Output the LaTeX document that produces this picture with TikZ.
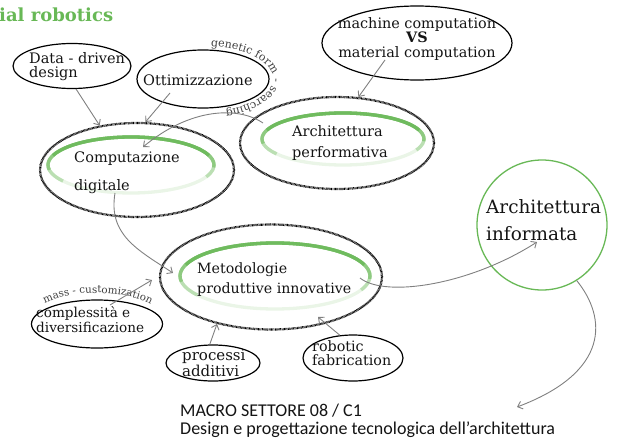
\documentclass[tikz,border=0pt]{standalone}
\usepackage{fontspec}
\setmainfont{DejaVu Serif}
\newfontfamily\sectorfont{Carlito}
\usetikzlibrary{shapes.geometric}
\usetikzlibrary{arrows.meta}
\usetikzlibrary{decorations.text}

\definecolor{leafgreen}{RGB}{104,184,86}
\definecolor{inkgray}{RGB}{128,128,128}

\tikzset{
  bubble/.style={draw=black, line width=1.2pt, ellipse, inner sep=0pt},
  hub/.style={draw=black, line width=2.2pt, dash pattern=on 0.7pt off 0.6pt, ellipse, inner sep=0pt},
  lbl/.style={inner sep=0pt, align=left, text=black!92},
  flow/.style={draw=inkgray, line width=0.9pt, -{Straight Barb[length=4.5pt,width=8pt]}},
  ring/.style={line width=3.3pt},
}

\begin{document}
\begin{tikzpicture}[x=1pt, y=1pt]
    \useasboundingbox (0,0) rectangle (620,-441);

    % Hubs
    \node[hub, minimum width=194pt, minimum height=94pt] (comp) at (137,-170) {};
    \node[hub, minimum width=194pt, minimum height=92pt] (perf) at (337,-143) {};
    \node[hub, minimum width=222pt, minimum height=105pt] (meto) at (271,-277) {};
    \node[circle, draw=leafgreen, line width=1.3pt, minimum size=130pt, inner sep=0pt] (info) at (542,-225) {};

    % Green rings
    \foreach \h/\dx/\dy/\rx/\ry in {comp/-6/5/83/28, perf/6/4/81/26, meto/4/1/95/33} {
      \path ([shift={(\dx,\dy)}]\h.center) coordinate (c);
      \foreach \tone/\from/\to in {14/0/360, 45/215/-25, 75/190/-5, 95/160/20}
        \draw[ring, leafgreen!\tone] ([shift={(\from:{\rx} and {\ry})}]c)
          arc[start angle=\from, end angle=\to, x radius=\rx, y radius=\ry];
    }

    % Bubbles
    \node[bubble, minimum width=118pt, minimum height=45pt] (data) at (72,-66) {};
    \node[bubble, minimum width=132pt, minimum height=58pt] (opt) at (203,-79) {};
    \node[bubble, minimum width=190pt, minimum height=74pt] (mach) at (417,-43) {};
    \node[bubble, minimum width=131pt, minimum height=48pt] (cplx) at (97,-324) {};
    \node[bubble, minimum width=94pt, minimum height=36pt] (proc) at (213,-363) {};
    \node[bubble, minimum width=100pt, minimum height=46pt] (robo) at (353,-358) {};
    \coordinate (sink) at (517,-407);

    % Labels
    \node[lbl, anchor=base west, text=leafgreen, font=\bfseries\fontsize{18pt}{18pt}\selectfont] (title) at (-1,-22) {ial robotics};
    \node[lbl, anchor=west, font=\fontsize{14.5pt}{14pt}\selectfont] (datatxt) at (29,-66.5) {Data - driven\\design};
    \node[lbl, anchor=base west, font=\fontsize{14.5pt}{14pt}\selectfont] (opttxt) at (143,-85) {Ottimizzazione};
    \node[lbl, align=center, font=\fontsize{14.4pt}{14.5pt}\selectfont] (machtxt) at (417,-39) {machine computation\\\textbf{VS}\\material computation};
    \node[lbl, anchor=west, font=\fontsize{14.5pt}{28pt}\selectfont] (comptxt) at (74,-172.5) {Computazione\\digitale};
    \node[lbl, anchor=west, font=\fontsize{14.5pt}{21pt}\selectfont] (perftxt) at (292,-143) {Architettura\\performativa};
    \node[lbl, anchor=west, font=\fontsize{18.4pt}{27pt}\selectfont] (infotxt) at (486,-220) {Architettura\\informata};
    \node[lbl, anchor=west, font=\fontsize{14.2pt}{20pt}\selectfont] (metotxt) at (197,-279.5) {Metodologie\\produttive innovative};
    \node[lbl, anchor=west, font=\fontsize{13.6pt}{15pt}\selectfont] (cplxtxt) at (36,-319.5) {complessità e\\diversificazione};
    \node[lbl, anchor=west, font=\fontsize{15pt}{13.5pt}\selectfont] (proctxt) at (182,-363) {processi\\additivi};
    \node[lbl, anchor=west, font=\fontsize{14.3pt}{14pt}\selectfont] (robotxt) at (312,-353.5) {robotic\\fabrication};
    \node[lbl, anchor=west, font=\sectorfont\fontsize{18pt}{18pt}\selectfont] (sector) at (180,-420.5) {MACRO SETTORE 08 / C1\\Design e progettazione tecnologica dell’architettura};

    % Curved captions
    \path[decorate, decoration={text along path, text color=black!75, text align=center,
        text={|\fontsize{11pt}{11pt}\selectfont|genetic form - searching}}]
      ([shift={(88:70 and 33)}]opt.center) arc[start angle=88, end angle=-76, x radius=70, y radius=33];
    \path[decorate, decoration={text along path, text color=black!75, text align=center,
        text={|\fontsize{10.3pt}{10.3pt}\selectfont|mass - customization}}]
      ([shift={(142:70 and 31)}]cplx.center) arc[start angle=142, end angle=36, x radius=70, y radius=31];

    % Arrows
    \draw[flow] (data.-80) -- (comp.130);
    \draw[flow] ([shift={(-33,-14)}]opt.center) -- (comp.80);
    \draw[flow] ([shift={(-74,20)}]perf.center) .. controls (238,-106) and (190,-108) .. ([shift={(6,23)}]comp.center);
    \draw[flow] ([shift={(-32,-17)}]mach.center) -- (perf.65);
    \draw[flow] ([shift={(-22,-23)}]comp.center) .. controls (108,-235) and (138,-250) .. ([shift={(-98,4)}]meto.center);
    \draw[flow] ([shift={(89,-1)}]meto.center) .. controls (385,-298) and (470,-285) .. ([shift={(-5,-17)}]info.center);
    \draw[flow] (info.-58) .. controls (607,-318) and (610,-372) .. (sink);
    \draw[flow] ([shift={(13,19)}]cplx.center) -- ([shift={(-119,-3)}]meto.center);
    \draw[flow] (proc.100) -- (meto.-139);
    \draw[flow] (robo.120) -- ([shift={(47,-40)}]meto.center);
\end{tikzpicture}
\end{document}
